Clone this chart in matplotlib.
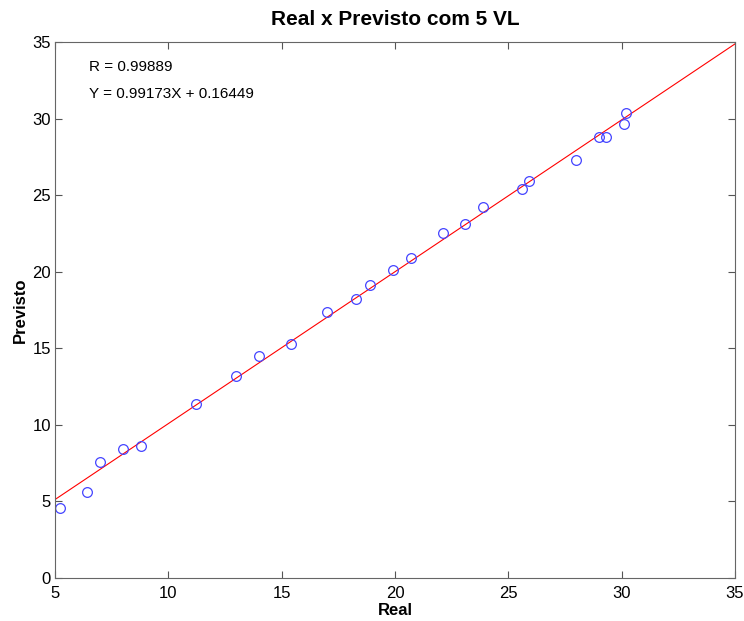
import numpy as np
import matplotlib.pyplot as plt

plt.rcParams['font.family'] = ['Liberation Sans', 'DejaVu Sans']

real = [5.2, 6.4, 7.0, 8.0, 8.8, 11.2, 13.0, 14.0, 15.4, 17.0, 18.3, 18.9,
        19.9, 20.7, 22.1, 23.1, 23.9, 25.6, 25.9, 28.0, 29.0, 29.3, 30.1, 30.2]
previsto = [4.55, 5.62, 7.58, 8.45, 8.62, 11.37, 13.2, 14.5, 15.3, 17.4, 18.25, 19.15,
            20.12, 20.87, 22.55, 23.12, 24.25, 25.42, 25.93, 27.32, 28.78, 28.82, 29.62, 30.37]

slope = 0.99173
intercept = 0.16449
R = 0.99889

fig = plt.figure(figsize=(7.44, 6.21), dpi=100)
ax = fig.add_axes([55/744, 1 - 578/621, 680/744, 536/621])

xl = np.array([5, 35])
ax.plot(xl, slope*xl + intercept, color='red', linewidth=0.8)
ax.plot(real, previsto, 'o', mfc='none', mec='#4444ff', markersize=7, markeredgewidth=0.9)

ax.set_xlim(5, 35)
ax.set_ylim(0, 35)
ax.set_xticks(range(5, 36, 5))
ax.set_yticks(range(0, 36, 5))
ax.tick_params(direction='in', labelsize=12, length=5, top=True, right=True,
               color='#555555')
ax.tick_params(axis='x', pad=6)
ax.tick_params(axis='y', pad=3)
for s in ax.spines.values():
    s.set_color('#666666')

ax.text(6.5, 33.1, 'R = %.5f' % R, fontsize=11)
ax.text(6.5, 31.35, 'Y = %.5fX + %.5f' % (slope, intercept), fontsize=11)

ax.set_xlabel('Real', fontsize=12, fontweight='bold', labelpad=1)
ax.set_ylabel('Previsto', fontsize=12, fontweight='bold', labelpad=3)
ax.set_title('Real x Previsto com 5 VL', fontsize=15, fontweight='bold', pad=12)

fig.savefig('out.png', dpi=100)
